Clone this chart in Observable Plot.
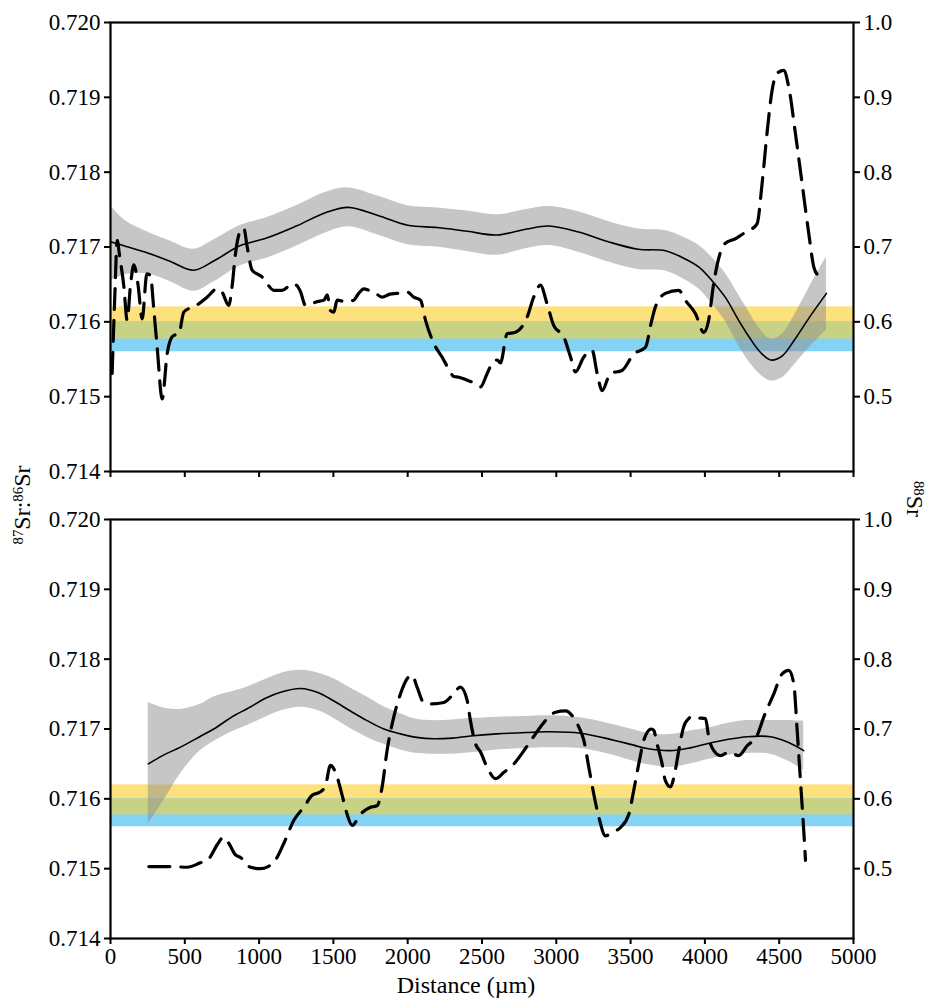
<!DOCTYPE html>
<html>
<head>
<meta charset="utf-8">
<script src="https://cdn.jsdelivr.net/npm/d3@7"></script>
<script src="https://cdn.jsdelivr.net/npm/@observablehq/plot@0.6"></script>
<style>
  html, body { margin: 0; padding: 0; background: #fff; }
  #wrap { position: relative; width: 935px; height: 1008px; font-family: 'Liberation Serif', 'Times New Roman', Times, serif; color: #000; }
  #wrap svg { display: block; }
  #wrap svg text { font-family: 'Liberation Serif', 'Times New Roman', Times, serif; }
  .lbl { position: absolute; white-space: nowrap; font-size: 24px; line-height: 1; }
  .lbl sup { font-size: 0.62em; vertical-align: 0.5em; line-height: 0; }
</style>
</head>
<body>
<div id="wrap"></div>
<script>
// ---- data ----
const xTicks = [0, 500, 1000, 1500, 2000, 2500, 3000, 3500, 4000, 4500, 5000];
const yTicks = [0.714, 0.715, 0.716, 0.717, 0.718, 0.719, 0.720];
const srTicks = [0.5, 0.6, 0.7, 0.8, 0.9, 1.0];

// reference ranges (87Sr/86Sr)
const yellowBand = [0.71577, 0.7162];
const blueBand = [0.7156, 0.7160];

// top panel: smoothed fit with confidence band
const topX   = [0, 100, 250, 400, 560, 700, 875, 1050, 1250, 1450, 1600, 1800, 2000, 2200, 2400, 2600, 2800, 2950, 3150, 3350, 3550, 3734, 3868, 3960, 4048, 4140, 4227, 4300, 4370, 4441, 4518, 4600, 4700, 4818];
const topFit = [0.71707, 0.71701, 0.71692, 0.71681, 0.71669, 0.71682, 0.71702, 0.71712, 0.71728, 0.71746, 0.71753, 0.71742, 0.71729, 0.71726, 0.71721, 0.71716, 0.71724, 0.71728, 0.71720, 0.71707, 0.71697, 0.71695, 0.71684, 0.71673, 0.71655, 0.71632, 0.71602, 0.71579, 0.71560, 0.71549, 0.71554, 0.71575, 0.71605, 0.71638];
const topHi  = [0.71755, 0.71735, 0.71720, 0.71708, 0.71697, 0.71710, 0.71729, 0.71739, 0.71755, 0.71773, 0.71779, 0.71768, 0.71755, 0.71752, 0.71748, 0.71743, 0.71750, 0.71754, 0.71747, 0.71734, 0.71724, 0.71722, 0.71712, 0.71702, 0.71686, 0.71664, 0.71636, 0.71612, 0.71590, 0.71577, 0.71583, 0.71608, 0.71645, 0.71687];
const topLo  = [0.71655, 0.71663, 0.71664, 0.71654, 0.71641, 0.71654, 0.71675, 0.71685, 0.71701, 0.71719, 0.71727, 0.71716, 0.71703, 0.71700, 0.71694, 0.71689, 0.71698, 0.71702, 0.71693, 0.71680, 0.71670, 0.71668, 0.71656, 0.71644, 0.71624, 0.71600, 0.71568, 0.71546, 0.71530, 0.71521, 0.71525, 0.71542, 0.71565, 0.71589];

// top panel: 88Sr (right axis)
const topSrX = [11, 30, 45, 60, 90, 112, 135, 157, 185, 213, 245, 269, 290, 314, 348, 381, 415, 440, 460, 493, 530, 560, 600, 650, 717, 750, 796, 818, 841, 875, 897, 920, 953, 987, 1020, 1054, 1099, 1155, 1200, 1223, 1256, 1279, 1312, 1350, 1391, 1436, 1458, 1480, 1503, 1525, 1581, 1637, 1670, 1705, 1740, 1772, 1828, 1880, 1929, 1996, 2041, 2086, 2120, 2176, 2231, 2276, 2310, 2344, 2400, 2450, 2490, 2535, 2580, 2602, 2624, 2669, 2725, 2803, 2848, 2893, 2938, 2983, 3050, 3096, 3129, 3185, 3241, 3275, 3308, 3364, 3442, 3521, 3600, 3640, 3667, 3734, 3824, 3868, 3936, 3992, 4025, 4059, 4100, 4137, 4205, 4260, 4295, 4351, 4385, 4418, 4452, 4485, 4530, 4564, 4609, 4654, 4699, 4733, 4760, 4789];
const topSr  = [0.531, 0.640, 0.709, 0.690, 0.647, 0.602, 0.650, 0.676, 0.650, 0.604, 0.664, 0.662, 0.620, 0.566, 0.497, 0.557, 0.580, 0.583, 0.584, 0.613, 0.618, 0.620, 0.625, 0.633, 0.644, 0.640, 0.622, 0.647, 0.691, 0.722, 0.725, 0.700, 0.669, 0.664, 0.660, 0.651, 0.642, 0.642, 0.648, 0.651, 0.648, 0.640, 0.622, 0.624, 0.627, 0.629, 0.636, 0.615, 0.613, 0.629, 0.627, 0.629, 0.638, 0.644, 0.642, 0.640, 0.633, 0.637, 0.638, 0.640, 0.633, 0.629, 0.602, 0.571, 0.553, 0.537, 0.527, 0.526, 0.522, 0.518, 0.513, 0.531, 0.548, 0.549, 0.545, 0.584, 0.586, 0.606, 0.633, 0.649, 0.624, 0.595, 0.580, 0.553, 0.533, 0.553, 0.562, 0.531, 0.508, 0.531, 0.535, 0.557, 0.566, 0.600, 0.620, 0.638, 0.642, 0.629, 0.611, 0.586, 0.602, 0.651, 0.690, 0.705, 0.711, 0.718, 0.722, 0.731, 0.785, 0.852, 0.909, 0.932, 0.936, 0.914, 0.852, 0.785, 0.718, 0.673, 0.662, 0.655];

// bottom panel: smoothed fit with confidence band
const botX   = [254, 360, 471, 600, 695, 830, 920, 1054, 1150, 1279, 1400, 1503, 1620, 1727, 1840, 1951, 2060, 2176, 2300, 2422, 2600, 2800, 2950, 3163, 3387, 3500, 3611, 3768, 3900, 4015, 4150, 4284, 4441, 4560, 4665];
const botFit = [0.71650, 0.71663, 0.71674, 0.71689, 0.71700, 0.71719, 0.71729, 0.71745, 0.71753, 0.71758, 0.71752, 0.71740, 0.71725, 0.71712, 0.71700, 0.71693, 0.71688, 0.71686, 0.71687, 0.71690, 0.71693, 0.71695, 0.71696, 0.71694, 0.71684, 0.71678, 0.71672, 0.71669, 0.71673, 0.71679, 0.71685, 0.71689, 0.71689, 0.71681, 0.71669];
const botHi  = [0.71738, 0.71730, 0.71728, 0.71735, 0.71746, 0.71754, 0.71760, 0.71772, 0.71780, 0.71784, 0.71780, 0.71772, 0.71758, 0.71746, 0.71732, 0.71722, 0.71714, 0.71712, 0.71713, 0.71715, 0.71717, 0.71718, 0.71719, 0.71716, 0.71706, 0.71700, 0.71694, 0.71692, 0.71697, 0.71701, 0.71708, 0.71712, 0.71712, 0.71712, 0.71711];
const botLo  = [0.71564, 0.71598, 0.71636, 0.71668, 0.71682, 0.71697, 0.71705, 0.71718, 0.71726, 0.71731, 0.71726, 0.71715, 0.71700, 0.71688, 0.71678, 0.71670, 0.71665, 0.71664, 0.71664, 0.71666, 0.71670, 0.71672, 0.71673, 0.71672, 0.71662, 0.71655, 0.71649, 0.71645, 0.71650, 0.71656, 0.71662, 0.71665, 0.71664, 0.71654, 0.71641];

// bottom panel: 88Sr (right axis)
const botSrX = [258, 415, 516, 600, 661, 720, 760, 800, 840, 875, 942, 1009, 1060, 1099, 1166, 1233, 1301, 1357, 1413, 1447, 1480, 1514, 1559, 1592, 1626, 1682, 1750, 1794, 1828, 1861, 1906, 1951, 1996, 2030, 2063, 2108, 2164, 2243, 2299, 2355, 2400, 2422, 2456, 2490, 2535, 2591, 2647, 2714, 2792, 2860, 2927, 2994, 3062, 3107, 3151, 3185, 3219, 3252, 3286, 3331, 3376, 3432, 3488, 3521, 3555, 3589, 3611, 3640, 3656, 3678, 3712, 3734, 3768, 3801, 3824, 3857, 3891, 3920, 3948, 4004, 4026, 4060, 4105, 4161, 4228, 4284, 4352, 4396, 4463, 4520, 4564, 4598, 4621, 4643, 4665, 4677];
const botSr  = [0.503, 0.503, 0.502, 0.508, 0.514, 0.535, 0.545, 0.535, 0.520, 0.516, 0.502, 0.500, 0.503, 0.509, 0.536, 0.569, 0.588, 0.605, 0.610, 0.619, 0.648, 0.638, 0.605, 0.578, 0.562, 0.578, 0.588, 0.590, 0.617, 0.669, 0.717, 0.750, 0.772, 0.777, 0.760, 0.738, 0.736, 0.738, 0.748, 0.760, 0.741, 0.712, 0.679, 0.667, 0.645, 0.629, 0.638, 0.650, 0.672, 0.693, 0.712, 0.724, 0.726, 0.719, 0.703, 0.684, 0.645, 0.607, 0.574, 0.547, 0.552, 0.559, 0.578, 0.612, 0.650, 0.684, 0.695, 0.700, 0.698, 0.679, 0.650, 0.626, 0.617, 0.641, 0.669, 0.703, 0.715, 0.718, 0.716, 0.715, 0.688, 0.669, 0.662, 0.667, 0.662, 0.676, 0.691, 0.717, 0.750, 0.779, 0.784, 0.765, 0.698, 0.626, 0.555, 0.512];

// ---- helpers ----
// right axis (88Sr, 0.4–1.0) shares the frame with the left axis (0.714–0.720)
const srToLeft = r => 0.715 + (r - 0.5) * 0.01;
const leftToSr = v => (v - 0.715) * 100 + 0.5;

const zip = (xs, ...cols) => xs.map((x, i) => ({x, ...Object.fromEntries(cols.map(([k, a]) => [k, a[i]]))}));

const topBand = zip(topX, ["fit", topFit], ["hi", topHi], ["lo", topLo]);
const topDash = zip(topSrX, ["sr", topSr]);
const botBand = zip(botX, ["fit", botFit], ["hi", botHi], ["lo", botLo]);
const botDash = zip(botSrX, ["sr", botSr]);

const overlap = [Math.max(yellowBand[0], blueBand[0]), Math.min(yellowBand[1], blueBand[1])];
const SERIF = "'Liberation Serif', 'Times New Roman', Times, serif";

function panel(band, dash, {height, marginTop, marginBottom, showX}) {
  return Plot.plot({
    width: 935,
    height,
    marginTop,
    marginBottom,
    marginLeft: 110,
    marginRight: 82,
    style: {fontFamily: SERIF, fontSize: "23px", color: "#000", background: "#fff"},
    x: {domain: [0, 5000]},
    y: {domain: [0.714, 0.720]},
    marks: [
      Plot.rect([yellowBand], {y1: d => d[0], y2: d => d[1], fill: "#fde17c"}),
      Plot.rect([blueBand], {y1: d => d[0], y2: d => d[1], fill: "#84d3f5"}),
      Plot.rect([overlap], {y1: d => d[0], y2: d => d[1], fill: "#c8d285"}),
      Plot.areaY(band, {x: "x", y1: "lo", y2: "hi", fill: "#8e8e8e", fillOpacity: 0.5, curve: "catmull-rom"}),
      Plot.line(band, {x: "x", y: "fit", stroke: "#000", strokeWidth: 1.6, curve: "catmull-rom"}),
      Plot.line(dash, {x: "x", y: d => srToLeft(d.sr), stroke: "#000", strokeWidth: 3.2, strokeDasharray: "21,11", curve: "monotone-x"}),
      Plot.frame({stroke: "#000", strokeWidth: 2.2}),
      Plot.axisY({anchor: "left", ticks: yTicks, tickFormat: d => d.toFixed(3), tickSize: 6, tickPadding: 4, strokeWidth: 2, label: null, fontFamily: SERIF}),
      Plot.axisY({anchor: "right", ticks: srTicks.map(srToLeft), tickFormat: d => leftToSr(d).toFixed(1), tickSize: 6, tickPadding: 4, strokeWidth: 2, label: null, fontFamily: SERIF}),
      Plot.axisX({anchor: "bottom", ticks: xTicks, tickFormat: showX ? (d => String(d)) : (() => ""), tickSize: 6, tickPadding: 3, strokeWidth: 2, label: null, fontFamily: SERIF})
    ]
  });
}

const wrap = document.getElementById("wrap");
wrap.appendChild(panel(topBand, topDash, {height: 490, marginTop: 22, marginBottom: 19, showX: false}));
wrap.appendChild(panel(botBand, botDash, {height: 518, marginTop: 29, marginBottom: 70, showX: true}));

function label(html, cx, cy, rot) {
  const d = document.createElement("div");
  d.className = "lbl";
  d.innerHTML = html;
  d.style.left = cx + "px";
  d.style.top = cy + "px";
  d.style.transform = `translate(-50%, -50%) rotate(${rot}deg)`;
  wrap.appendChild(d);
}
label("<sup>87</sup>Sr:<sup>86</sup>Sr", 22, 505, -90);
label("<sup>88</sup>Sr", 915, 499, 90);
label("Distance (µm)", 466, 985, 0);
</script>
</body>
</html>
